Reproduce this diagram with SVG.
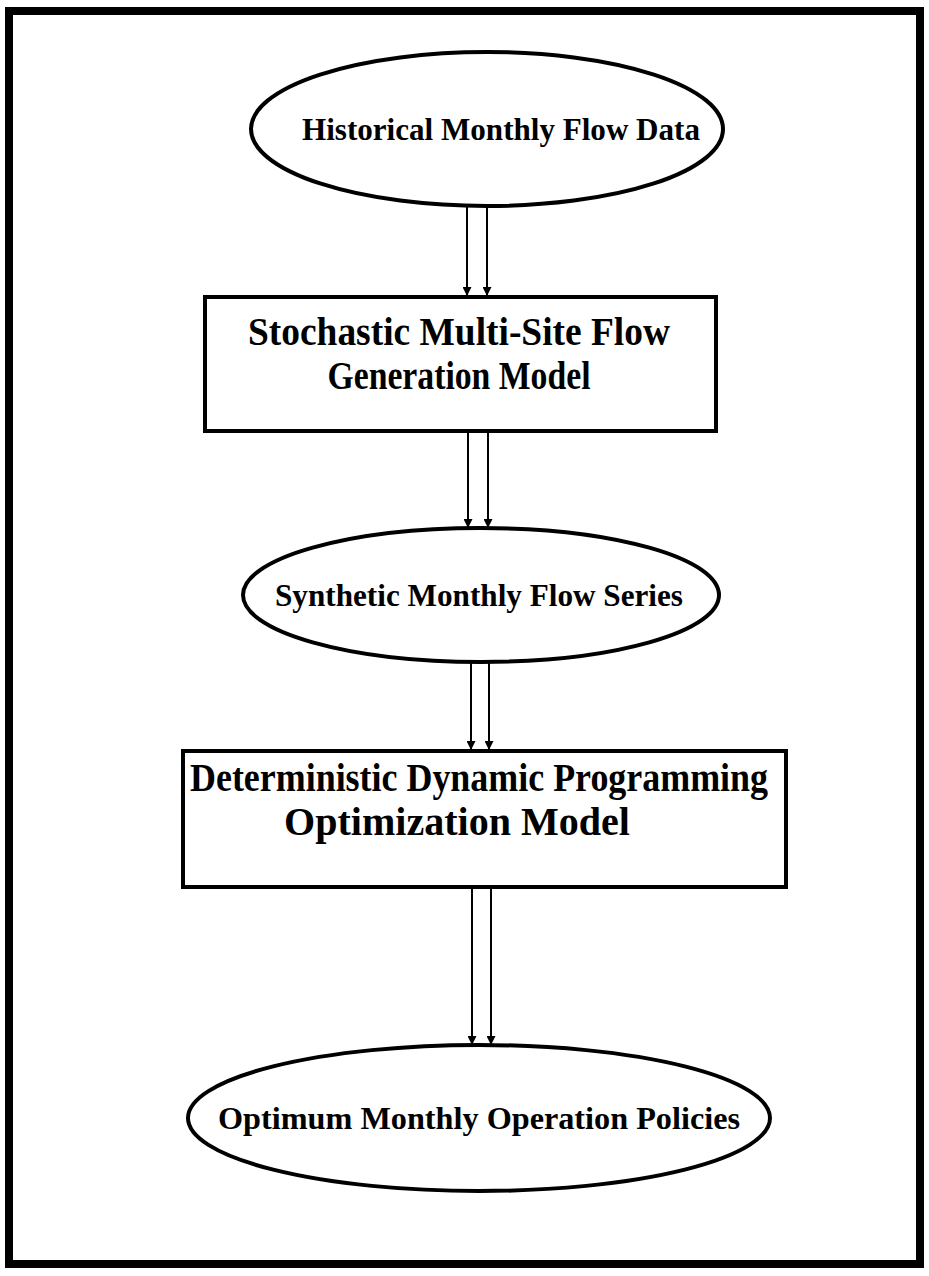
<svg xmlns="http://www.w3.org/2000/svg" width="929" height="1276" viewBox="0 0 929 1276">
<defs>
<style>
.n{fill:none;stroke:#000;stroke-width:4}
.t{font-family:"Liberation Serif","Times New Roman",serif;font-weight:bold;fill:#000;text-anchor:middle}
.s{font-size:31px}
.b{font-size:40px}
.c{stroke:#000;stroke-width:2;fill:none;marker-end:url(#ah)}
</style>
<marker id="ah" viewBox="0 0 10 10" refX="10" refY="5" markerWidth="9" markerHeight="9" orient="auto" markerUnits="userSpaceOnUse">
<path d="M0,0 L10,5 L0,10 z" fill="#000"/>
</marker>
</defs>
<rect width="929" height="1276" fill="#fff"/>
<rect x="9" y="11" width="911" height="1253" fill="none" stroke="#000" stroke-width="8"/>
<g id="connectors">
<line class="c" x1="467" y1="207" x2="467" y2="296"/>
<line class="c" x1="487" y1="207" x2="487" y2="296"/>
<line class="c" x1="468" y1="433" x2="468" y2="528"/>
<line class="c" x1="488" y1="433" x2="488" y2="528"/>
<line class="c" x1="471" y1="663" x2="471" y2="750"/>
<line class="c" x1="489" y1="663" x2="489" y2="750"/>
<line class="c" x1="472" y1="889" x2="472" y2="1045"/>
<line class="c" x1="491" y1="889" x2="491" y2="1045"/>
</g>
<g id="historical">
<ellipse class="n" cx="487" cy="129" rx="236" ry="77"/>
<text class="t s" x="501" y="140" textLength="398" lengthAdjust="spacingAndGlyphs">Historical Monthly Flow Data</text>
</g>
<g id="stochastic">
<rect class="n" x="205" y="297" width="511" height="134"/>
<text class="t b" x="459" y="345" textLength="422" lengthAdjust="spacingAndGlyphs">Stochastic Multi-Site Flow</text>
<text class="t b" x="459" y="389" textLength="263" lengthAdjust="spacingAndGlyphs">Generation Model</text>
</g>
<g id="synthetic">
<ellipse class="n" cx="481" cy="595" rx="238" ry="67"/>
<text class="t s" x="479" y="606" textLength="408" lengthAdjust="spacingAndGlyphs">Synthetic Monthly Flow Series</text>
</g>
<g id="deterministic">
<rect class="n" x="183" y="751" width="603" height="136"/>
<text class="t b" x="479" y="791" textLength="578" lengthAdjust="spacingAndGlyphs">Deterministic Dynamic Programming</text>
<text class="t b" x="457" y="835" textLength="346" lengthAdjust="spacingAndGlyphs">Optimization Model</text>
</g>
<g id="optimum">
<ellipse class="n" cx="479" cy="1118" rx="291" ry="73"/>
<text class="t s" x="479" y="1129" textLength="522" lengthAdjust="spacingAndGlyphs">Optimum Monthly Operation Policies</text>
</g>
</svg>
